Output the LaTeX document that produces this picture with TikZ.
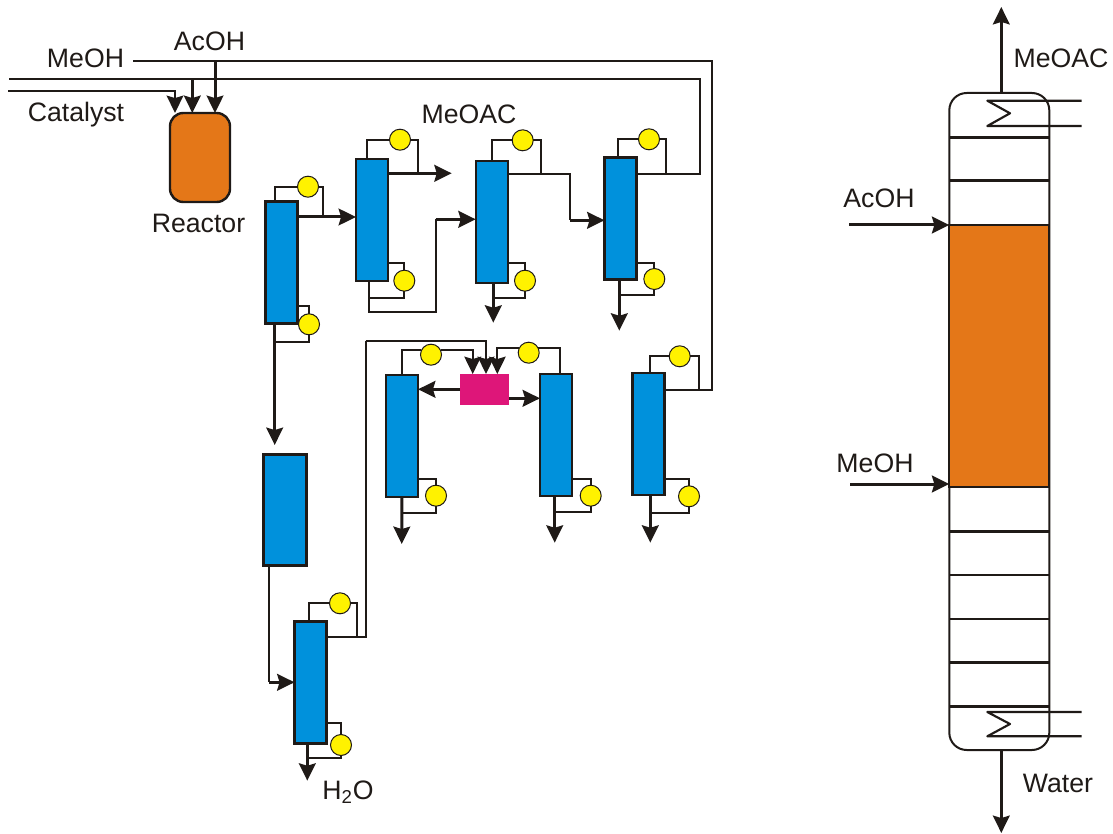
\documentclass[tikz,border=0pt]{standalone}
\usepackage{fontspec}
\setmainfont{Liberation Sans}
\usetikzlibrary{arrows.meta}
\definecolor{ink}{HTML}{1F1A17}
\definecolor{colblue}{HTML}{0091DC}
\definecolor{reactorange}{HTML}{E47718}
\definecolor{mixpink}{HTML}{DE1679}
\definecolor{refluxyellow}{HTML}{FFF200}
\begin{document}
\begin{tikzpicture}[x=0.75pt,y=-0.75pt,>={Stealth[length=13pt,width=12.5pt,inset=1.8pt]}]
    \useasboundingbox (0,0) rectangle (1113,834);
    \tikzstyle{column}=[rectangle,draw=ink,fill=colblue,line width=1.8pt,inner sep=0pt,outer sep=0pt,minimum width=24pt,minimum height=91.5pt]
    \tikzstyle{reflux}=[circle,draw=ink,fill=refluxyellow,line width=0.75pt,inner sep=0pt,outer sep=0pt,minimum size=15.75pt]
    \tikzstyle{tag}=[text=ink,font=\fontsize{20}{22}\selectfont,inner sep=0pt]
    \tikzstyle{pipe}=[draw=ink,line width=1.6pt]
    \tikzstyle{pipelink}=[pipe,->]
    \tikzstyle{link}=[->,draw=ink,line width=2.25pt]
    \tikzstyle{tray}=[draw=ink,line width=1.9pt]

    \node[rectangle,rounded corners=10pt,draw=ink,fill=reactorange,line width=1.8pt,minimum width=45pt,minimum height=66.75pt,inner sep=0pt,outer sep=0pt] (R01) at (200,157.5) {};
    \node[column] (C01) at (281.5,262.5) {};
    \node[column] (C02) at (372,220) {};
    \node[column] (C03) at (491.7,222) {};
    \node[column] (C04) at (620.5,218.5) {};
    \node[column] (C05) at (402,436) {};
    \node[column] (C06) at (556,435) {};
    \node[column] (C07) at (648.5,433.7) {};
    \node[column] (C08) at (310.5,682.5) {};
    \node[column,minimum width=32pt,minimum height=83.5pt] (T01) at (285,510) {};
    \node[rectangle,fill=mixpink,inner sep=0pt,outer sep=0pt,minimum width=36.75pt,minimum height=23.25pt] (M01) at (484.5,389.5) {};

    \node[reflux] (Y01) at (308,186.7) {};
    \node[reflux] (Y02) at (309,324.3) {};
    \node[reflux] (Y03) at (400,139.7) {};
    \node[reflux] (Y04) at (404.3,280.7) {};
    \node[reflux] (Y05) at (522.7,140.3) {};
    \node[reflux] (Y06) at (525,280.7) {};
    \node[reflux] (Y07) at (649,139.3) {};
    \node[reflux] (Y08) at (654.3,279) {};
    \node[reflux] (Y09) at (431,354.7) {};
    \node[reflux] (Y10) at (436,495.7) {};
    \node[reflux] (Y11) at (528.7,352.7) {};
    \node[reflux] (Y12) at (590.7,495.7) {};
    \node[reflux] (Y13) at (679.7,356.3) {};
    \node[reflux] (Y14) at (689,496.3) {};
    \node[reflux] (Y15) at (340,603.3) {};
    \node[reflux] (Y16) at (341,745) {};

    \node[tag] (L01) at (209.5,41) {AcOH};
    \node[tag] (L02) at (85.5,58.5) {MeOH};
    \node[tag] (L03) at (76,115) {Catalyst};
    \node[tag] (L04) at (198.5,223) {Reactor};
    \node[tag] (L05) at (469,114) {MeOAC};
    \node[tag] (L06) at (348,792) {H\textsubscript{2}O};
    \node[tag] (L07) at (879,198.5) {AcOH};
    \node[tag] (L08) at (875,463.5) {MeOH};
    \node[tag] (L09) at (1061,58) {MeOAC};
    \node[tag] (L10) at (1058,783.5) {Water};

    % feeds to the reactor
    \draw[pipe] (133,61.3) -| (712,390) -- (C07.east |- 0,390);
    \draw[pipe] (C04.east |- 0,174) -| (700,79.3) -- (9,79.3);
    \draw[link] (215,61.3) -- (R01.north -| 215,0);
    \draw[link] (192.3,79.3) -- (R01.north -| 192.3,0);
    \draw[pipelink] (8,91.3) -| (R01.north -| 175,0);

    % first row
    \draw[pipe] (C01.north -| 275,0) |- (Y01);
    \draw[pipe] (Y01) -| (323.3,217);
    \draw[link] (C01.east |- 0,217) -- (C02.west |- 0,217);
    \draw[pipe] (C01.east |- 0,306) -| (Y02);
    \draw[pipe] (Y02) |- (274.7,342);
    \draw[link] (C01.south -| 274.7,0) -- (274.7,445);

    \draw[pipe] (C02.north -| 367,0) |- (Y03);
    \draw[pipe] (Y03) -| (418,173.3);
    \draw[link] (C02.east |- 0,173.3) -- (451.7,173.3);
    \draw[pipe] (C02.east |- 0,263.3) -| (Y04);
    \draw[pipe] (Y04) |- (369.3,298.3);
    \draw[pipe] (C02.south -| 369.3,0) |- (435.7,312) -- (435.7,219.3);
    \draw[link] (435.7,219.3) -- (C03.west |- 0,219.3);

    \draw[pipe] (C03.north) |- (Y05);
    \draw[pipe] (Y05) -| (541.3,174);
    \draw[pipe] (C03.east |- 0,174) -| (570,220.3);
    \draw[link] (570,220.3) -- (C04.west |- 0,220.3);
    \draw[pipe] (C03.east |- 0,263.3) -| (Y06);
    \draw[pipe] (Y06) |- (493.3,298.3);
    \draw[link] (C03.south -| 493.3,0) -- (493.3,322.7);

    \draw[pipe] (C04.north -| 617.7,0) |- (Y07);
    \draw[pipe] (Y07) -| (665.7,174);
    \draw[pipe] (C04.east |- 0,262.7) -| (Y08);
    \draw[pipe] (Y08) |- (619.3,295.3);
    \draw[link] (C04.south -| 619.3,0) -- (619.3,330.7);

    % second row
    \draw[pipe] (C05.north) |- (Y09.155);
    \draw[pipelink] (Y09.25) -| (M01.north -| 472.7,0);
    \draw[pipe] (C05.east |- 0,478.7) -| (Y10);
    \draw[pipe] (Y10) |- (401.7,513);
    \draw[link] (C05.south) -- (401.7,544);
    \draw[link] (M01.west |- 0,389.3) -- (C05.east |- 0,389.3);

    \draw[pipe] (C06.north -| 560,0) |- (Y11.25);
    \draw[pipelink] (Y11.155) -| (M01.north -| 497.3,0);
    \draw[pipe] (C06.east |- 0,478.7) -| (Y12);
    \draw[pipe] (Y12) |- (554.7,512.3);
    \draw[link] (C06.south -| 554.7,0) -- (554.7,542.7);
    \draw[link] (M01.east |- 0,398.3) -- (C06.west |- 0,398.3);

    \draw[pipe] (C07.north -| 650.3,0) |- (Y13);
    \draw[pipe] (Y13) -| (699,390);
    \draw[pipe] (C07.east |- 0,478.7) -| (Y14);
    \draw[pipe] (Y14) |- (650.3,513.3);
    \draw[link] (C07.south -| 650.3,0) -- (650.3,542.7);

    % tank and water column
    \draw[pipe] (T01.south -| 269,0) -- (269,682.3);
    \draw[link] (269,682.3) -- (C08.west |- 0,682.3);
    \draw[pipe] (C08.north -| 309,0) |- (Y15);
    \draw[pipe] (Y15) -| (357.3,636.7);
    \draw[pipe] (C08.east |- 0,636.7) -| (365.7,340.7);
    \draw[pipelink] (365.7,340.7) -| (M01.north -| 486,0);
    \draw[pipe] (C08.east |- 0,723.3) -| (Y16);
    \draw[pipe] (Y16) |- (307.3,758);
    \draw[link] (C08.south -| 307.3,0) -- (307.3,780.7);

    % reactive distillation column
    \node[rectangle,rounded corners=13pt,draw=ink,fill=white,line width=1.5pt,minimum width=75pt,minimum height=492.75pt,inner sep=0pt,outer sep=0pt] (D01) at (999.3,421.5) {};
    \node[rectangle,draw=ink,fill=reactorange,line width=1.5pt,minimum width=75pt,minimum height=196.5pt,inner sep=0pt,outer sep=0pt] (D02) at (999.3,356) {};
    \draw[tray] (D01.west |- 0,137.3) -- (D01.east |- 0,137.3);
    \draw[tray] (D01.west |- 0,180.5) -- (D01.east |- 0,180.5);
    \draw[tray] (D01.west |- 0,531.5) -- (D01.east |- 0,531.5);
    \draw[tray] (D01.west |- 0,575) -- (D01.east |- 0,575);
    \draw[tray] (D01.west |- 0,619) -- (D01.east |- 0,619);
    \draw[tray] (D01.west |- 0,662.3) -- (D01.east |- 0,662.3);
    \draw[tray] (D01.west |- 0,706.5) -- (D01.east |- 0,706.5);
    \draw[pipe,line join=round] (1081.7,100.7) -- (987.3,100.7) -- (1010,113.3) -- (987.3,126) -- (1081.7,126);
    \draw[pipe,line join=round] (1081.7,712) -- (987.3,712) -- (1010,724) -- (987.3,736.3) -- (1081.7,736.3);
    \draw[link] (D01.north -| 1001.3,0) -- (1001.3,7);
    \draw[link] (D01.south -| 1001.3,0) -- (1001.3,833);
    \draw[link] (849,225) -- (D02.west |- 0,225);
    \draw[link] (850,484) -- (D02.west |- 0,484);
\end{tikzpicture}
\end{document}
